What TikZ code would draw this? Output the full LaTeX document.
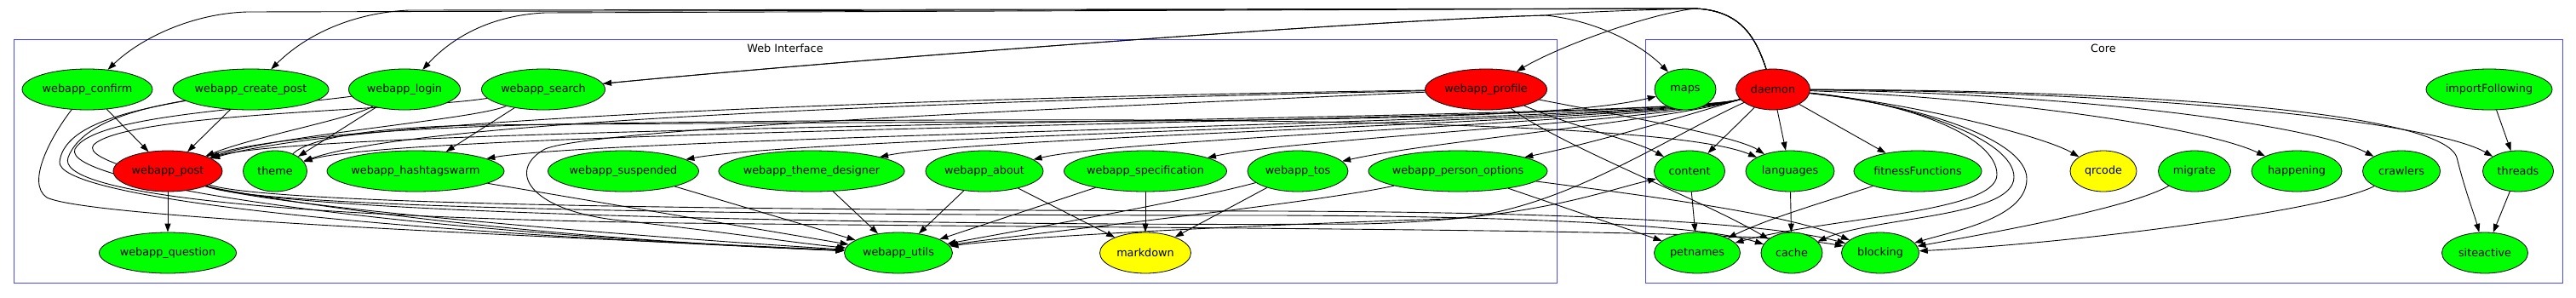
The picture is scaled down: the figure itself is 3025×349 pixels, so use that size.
\documentclass[tikz,border=0pt]{standalone}
\usepackage{fontspec}
\setmainfont{DejaVu Sans}
\usepackage{tikz}
\usetikzlibrary{shapes.geometric,arrows.meta,backgrounds}
\definecolor{modgreen}{RGB}{0,255,0}
\definecolor{modred}{RGB}{255,0,0}
\definecolor{modyellow}{RGB}{255,255,0}
\definecolor{clusterblue}{RGB}{72,72,255}

\begin{document}
\begin{tikzpicture}[x=1pt, y=-1pt,
  mod/.style={ellipse, draw=black, line width=0.8pt, fill=modgreen,
    inner xsep=-3pt, inner ysep=0pt, minimum height=48pt,
    font=\fontsize{12.8}{15}\selectfont},
  hotmod/.style={mod, fill=modred},
  extmod/.style={mod, fill=modyellow},
  dep/.style={-{Triangle[length=10pt,width=7pt]}, line width=0.9pt},
  cluster/.style={draw=clusterblue, line width=1pt}]
  \useasboundingbox (0,0) rectangle (3025,349);

  % Web Interface: top row
  \node[mod, minimum width=153pt] (wconfirm) at (102.5,105) {webapp\_confirm};
  \node[mod, minimum width=183pt] (wcreate) at (294.5,105) {webapp\_create\_post};
  \node[mod, minimum width=131pt] (wlogin) at (475,105) {webapp\_login};
  \node[mod, minimum width=145pt] (wsearch) at (638,105) {webapp\_search};
  \node[hotmod, minimum width=143pt] (wprofile) at (1745,105) {webapp\_profile};
  % middle row
  \node[hotmod, minimum width=128pt] (wpost) at (197,201) {webapp\_post};
  \node[mod, minimum width=75pt] (theme) at (323,201) {theme};
  \node[mod, minimum width=208pt] (whashtag) at (488,201) {webapp\_hashtagswarm};
  \node[mod, minimum width=177pt] (wsusp) at (732,201) {webapp\_suspended};
  \node[mod, minimum width=218pt] (wthemed) at (953,201) {webapp\_theme\_designer};
  \node[mod, minimum width=138pt] (wabout) at (1156,201) {webapp\_about};
  \node[mod, minimum width=191pt] (wspec) at (1345,201) {webapp\_specification};
  \node[mod, minimum width=118pt] (wtos) at (1524,201) {webapp\_tos};
  \node[mod, minimum width=210pt] (wperson) at (1712,201) {webapp\_person\_options};
  % bottom row
  \node[mod, minimum width=161pt] (wquestion) at (197,297) {webapp\_question};
  \node[mod, minimum width=127pt] (wutils) at (1055,297) {webapp\_utils};
  \node[extmod, minimum width=107pt] (markdown) at (1345,297) {markdown};

  % Core
  \node[mod, minimum width=72pt] (maps) at (1979,105) {maps};
  \node[hotmod, minimum width=87pt] (daemon) at (2082,105) {daemon};
  \node[mod, minimum width=148pt] (importfol) at (2923,105) {importFollowing};
  \node[mod, minimum width=83pt] (content) at (1984,201) {content};
  \node[mod, minimum width=104pt] (languages) at (2102,201) {languages};
  \node[mod, minimum width=150pt] (fitness) at (2252,201) {fitnessFunctions};
  \node[extmod, minimum width=78pt] (qrcode) at (2470,201) {qrcode};
  \node[mod, minimum width=85pt] (migrate) at (2577,201) {migrate};
  \node[mod, minimum width=106pt] (happening) at (2697,201) {happening};
  \node[mod, minimum width=91pt] (crawlers) at (2820,201) {crawlers};
  \node[mod, minimum width=83pt] (threads) at (2957,201) {threads};
  \node[mod, minimum width=101pt] (petnames) at (1993,297) {petnames};
  \node[mod, minimum width=72pt] (cache) at (2104,297) {cache};
  \node[mod, minimum width=91pt] (blocking) at (2208,297) {blocking};
  \node[mod, minimum width=101pt] (siteactive) at (2918,297) {siteactive};

  % Cluster labels
  \node[font=\fontsize{12.8}{15}\selectfont] (weblabel) at (922,57) {Web Interface};
  \node[font=\fontsize{12.8}{15}\selectfont] (corelabel) at (2470,57) {Core};

  \begin{pgfonlayer}{background}
  % Clusters
  \draw[cluster] (16,46) rectangle (1828,332);
  \draw[cluster] (1932,46) rectangle (3009,332);

  % daemon over the top
  \draw[dep] (daemon) .. controls (2062,45) and (2045,12) .. (1990,10) -- (290,14) .. controls (225,16) and (165,45) .. (wconfirm);
  \draw[dep] (daemon) .. controls (2062,45) and (2045,12) .. (1990,10) -- (480,12) .. controls (415,15) and (360,40) .. (wcreate);
  \draw[dep] (daemon) .. controls (2062,45) and (2045,12) .. (1990,10) -- (640,15) .. controls (575,18) and (530,45) .. (wlogin);
  \draw[dep] (daemon) .. controls (2062,45) and (2045,12) .. (1990,10) .. controls (1920,12) and (1850,14) .. (1815,18) .. controls (1600,24) and (1000,70) .. (wsearch);
  \draw[dep] (wsearch) .. controls (1000,70) and (1600,24) .. (1815,18) .. controls (1880,25) and (1930,55) .. (maps);
  \draw[dep] (daemon) .. controls (2062,45) and (2045,12) .. (1990,10) .. controls (1930,18) and (1830,55) .. (wprofile);

  % daemon into the web row
  \foreach \t/\cx/\cy in {wpost/380/145, theme/480/150, whashtag/720/160, wsusp/950/160,
      wthemed/1150/160, wabout/1320/162, wspec/1520/163, wtos/1680/166, wperson/1870/168}
    \draw[dep] (daemon) .. controls (1960,142) and (\cx,\cy) .. (\t);

  % profile into the web row
  \draw[dep] (wprofile) .. controls (1400,110) and (450,128) .. (wpost);
  \draw[dep] (wprofile) .. controls (1400,113) and (520,132) .. (theme);

  % short ones
  \foreach \a/\b in {wconfirm/wpost, wcreate/wpost, wlogin/theme, wsearch/whashtag, wpost/wquestion,
      whashtag/wutils, wsusp/wutils, wthemed/wutils, wabout/wutils, wspec/wutils,
      wabout/markdown, wspec/markdown, wtos/markdown}
    \draw[dep] (\a) -- (\b);
  \draw[dep] (wlogin) .. controls (410,140) and (300,160) .. (wpost);
  \draw[dep] (wsearch) .. controls (560,140) and (330,158) .. (wpost);
  \draw[dep] (wtos) .. controls (1400,235) and (1200,270) .. (wutils);

  % round the left into webapp_utils
  \draw[dep] (wconfirm) .. controls (60,160) and (30,215) .. (55,232) .. controls (110,258) and (700,280) .. (wutils);
  \draw[dep] (wcreate) .. controls (140,132) and (75,150) .. (70,190) .. controls (66,230) and (400,270) .. (wutils);
  \draw[dep] (wlogin) .. controls (300,128) and (110,135) .. (88,175) .. controls (70,215) and (450,272) .. (wutils);
  \draw[dep] (wsearch) .. controls (480,130) and (150,132) .. (110,170) .. controls (80,205) and (500,275) .. (wutils);
  \draw[dep] (wcreate) .. controls (160,128) and (95,145) .. (80,185) .. controls (65,225) and (300,255) .. (800,262) .. controls (1500,270) and (2050,268) .. (blocking);
  \draw[dep] (wprofile) .. controls (1300,125) and (700,150) .. (640,175) .. controls (595,200) and (620,245) .. (720,258) .. controls (850,272) and (930,285) .. (wutils);
  \draw[dep] (daemon) .. controls (1950,165) and (1830,250) .. (1700,257) .. controls (1450,265) and (1200,278) .. (wutils);

  % webapp_post and theme into Core
  \draw[dep] (wpost) .. controls (300,240) and (700,275) .. (wutils);
  \draw[dep] (wpost) .. controls (330,245) and (1100,247) .. (1500,248) .. controls (1850,249) and (2080,262) .. (blocking);
  \draw[dep] (wpost) .. controls (320,250) and (1100,253) .. (1500,253) .. controls (1800,254) and (2000,265) .. (cache);
  \draw[dep] (wpost) .. controls (340,255) and (1200,266) .. (1600,263) .. controls (1800,258) and (1880,225) .. (content);
  \draw[dep] (wpost) .. controls (280,170) and (400,150) .. (700,145) .. controls (1600,132) and (1980,150) .. (languages);
  \draw[dep] (theme) .. controls (360,165) and (420,150) .. (560,147) .. controls (1300,140) and (1800,148) .. (maps);

  % profile and person options into Core
  \draw[dep] (wprofile) .. controls (1850,150) and (1920,165) .. (content);
  \draw[dep] (wprofile) .. controls (1900,135) and (2040,160) .. (languages);
  \draw[dep] (wprofile) .. controls (1830,170) and (2000,235) .. (cache);
  \draw[dep] (wperson) .. controls (1550,238) and (1200,275) .. (wutils);
  \draw[dep] (wperson) -- (petnames);
  \draw[dep] (wperson) .. controls (1950,232) and (2100,252) .. (blocking);

  % inside Core
  \foreach \a/\b in {daemon/content, daemon/languages, daemon/fitness, content/petnames,
      languages/cache, importfol/threads, threads/siteactive}
    \draw[dep] (\a) -- (\b);
  \draw[dep] (daemon) .. controls (2250,122) and (2400,160) .. (qrcode);
  \draw[dep] (daemon) .. controls (2350,115) and (2590,150) .. (happening);
  \draw[dep] (daemon) .. controls (2450,110) and (2720,148) .. (crawlers);
  \draw[dep] (daemon) .. controls (2550,108) and (2860,145) .. (threads);
  \draw[dep] (daemon) .. controls (2550,106) and (2870,135) .. (2885,185) .. controls (2895,225) and (2905,250) .. (siteactive);
  \draw[dep] (daemon) .. controls (2240,120) and (2345,160) .. (2345,205) .. controls (2345,250) and (2150,255) .. (petnames);
  \draw[dep] (daemon) .. controls (2250,122) and (2365,165) .. (2365,208) .. controls (2365,255) and (2200,255) .. (cache);
  \draw[dep] (daemon) .. controls (2260,124) and (2380,165) .. (2380,210) .. controls (2380,255) and (2300,270) .. (blocking);
  \draw[dep] (fitness) .. controls (2150,235) and (2080,255) .. (petnames);
  \draw[dep] (migrate) .. controls (2500,245) and (2330,275) .. (blocking);
  \draw[dep] (crawlers) .. controls (2740,245) and (2450,285) .. (blocking);
  \end{pgfonlayer}
\end{tikzpicture}
\end{document}
